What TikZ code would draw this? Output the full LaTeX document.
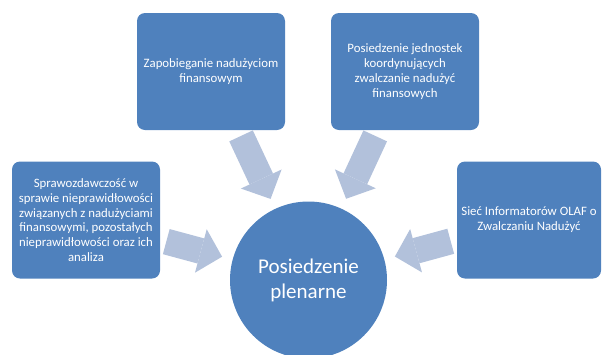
\documentclass[tikz,border=0pt]{standalone}
\usepackage{fontspec}
\setmainfont{Carlito}
\usetikzlibrary{arrows.meta}
\definecolor{boxblue}{HTML}{4F81BD}
\definecolor{arrowblue}{HTML}{B2C1DB}
\begin{document}
\begin{tikzpicture}[x=1pt, y=-1pt, box/.style={fill=boxblue, rounded corners=8pt, minimum width=148pt, minimum height=117pt, inner sep=0pt, outer sep=0pt, align=center, text=white, font=\fontsize{12.8}{14.8}\selectfont}, hub/.style={circle, fill=boxblue, minimum size=157pt, inner sep=0pt, outer sep=0pt, align=center, text=white, font=\fontsize{21}{25}\selectfont}, bigarrow/.style={draw=arrowblue, line width=26pt, shorten <=6.5pt, shorten >=11pt, -{Triangle[length=22pt, width=45pt, line width=0pt]}}]
\useasboundingbox (0,0) rectangle (603,354);
\node[hub] (plen) at (308.5,280) {Posiedzenie\\plenarne};
\node[box] (zap)  at (211,71.5)  {Zapobieganie nadużyciom\\finansowym};
\node[box] (jedn) at (405,71.5)  {Posiedzenie jednostek\\koordynujących\\zwalczanie nadużyć\\finansowych};
\node[box] (spraw) at (86,220)   {Sprawozdawczość w\\sprawie nieprawidłowości\\związanych z nadużyciami\\finansowymi, pozostałych\\nieprawidłowości oraz ich\\analiza};
\node[box, minimum width=144pt] (siec) at (529,220) {Sieć Informatorów OLAF o\\Zwalczaniu Nadużyć};
\draw[bigarrow] (zap) -- (plen); \draw[bigarrow] (jedn) -- (plen); \draw[bigarrow] (spraw) -- (plen); \draw[bigarrow] (siec) -- (plen);
\end{tikzpicture}
\end{document}
